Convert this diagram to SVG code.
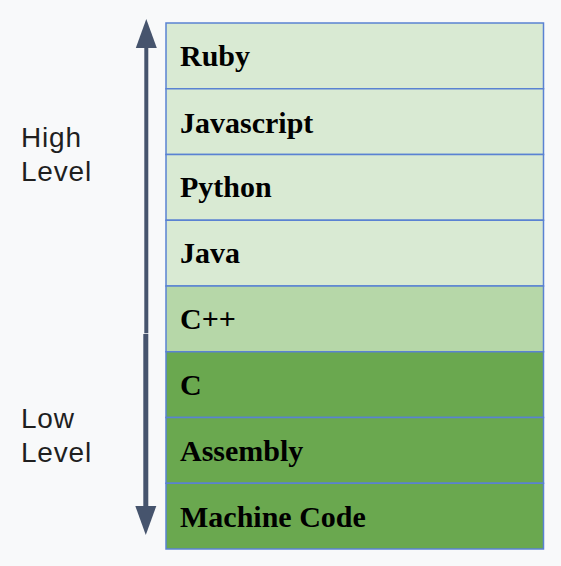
<svg xmlns="http://www.w3.org/2000/svg" width="561" height="566" viewBox="0 0 561 566">
<style>
.row{stroke:#5a82d2;stroke-width:1.5}
.l1{fill:#d9ead3}
.l2{fill:#b6d7a8}
.l3{fill:#6aa84f}
.t{font-family:"Liberation Serif","Times New Roman",serif;font-weight:bold;font-size:30px;fill:#000}
.side{font-family:"Liberation Sans",Arial,sans-serif;font-size:28px;fill:#1f1f1f;letter-spacing:0.8px}
.arr{stroke:#46546d;fill:none}
</style>
<rect x="0" y="0" width="561" height="566" fill="#f8f9fa"/>
<g id="connectors">
<line class="arr" x1="146.3" y1="46" x2="146.3" y2="333.3" stroke-width="4"/>
<polygon points="146.3,19 135.8,48 156.8,48" fill="#46546d"/>
<line class="arr" x1="145.8" y1="334" x2="145.8" y2="508" stroke-width="5"/>
<polygon points="145.8,535 135.3,506 156.3,506" fill="#46546d"/>
</g>
<g id="label-high"><text class="side" x="21" y="147.3">High</text><text class="side" x="21" y="181">Level</text></g>
<g id="label-low"><text class="side" x="21" y="428.3">Low</text><text class="side" x="21" y="461.7">Level</text></g>
<g id="ruby"><rect class="row l1" x="166" y="23" width="377.5" height="65.75"/><text class="t" x="180" y="66">Ruby</text></g>
<g id="javascript"><rect class="row l1" x="166" y="88.75" width="377.5" height="65.75"/><text class="t" x="180" y="132.5">Javascript</text></g>
<g id="python"><rect class="row l1" x="166" y="154.5" width="377.5" height="65.75"/><text class="t" x="180" y="197">Python</text></g>
<g id="java"><rect class="row l1" x="166" y="220.25" width="377.5" height="65.75"/><text class="t" x="180" y="263">Java</text></g>
<g id="cpp"><rect class="row l2" x="166" y="286" width="377.5" height="65.75"/><text class="t" x="180" y="329.3">C++</text></g>
<g id="c"><rect class="row l3" x="166" y="351.75" width="377.5" height="65.75"/><text class="t" x="180" y="395">C</text></g>
<g id="assembly"><rect class="row l3" x="166" y="417.5" width="377.5" height="65.75"/><text class="t" x="180" y="461">Assembly</text></g>
<g id="machine-code"><rect class="row l3" x="166" y="483.25" width="377.5" height="65.75"/><text class="t" x="180" y="526.7">Machine Code</text></g>
</svg>
